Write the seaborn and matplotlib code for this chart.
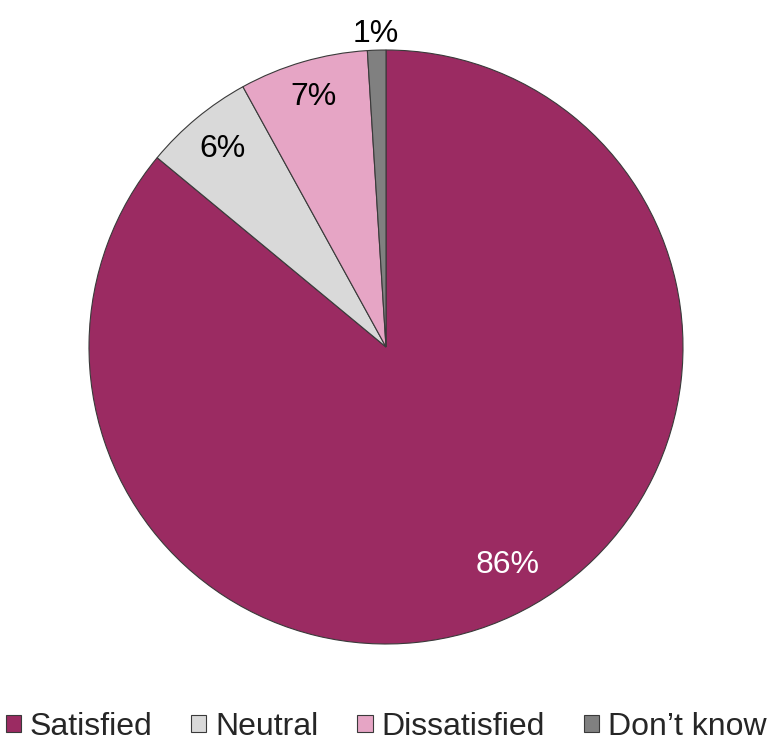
import matplotlib
matplotlib.use("Agg")
import matplotlib.pyplot as plt
from matplotlib.patches import Patch
import numpy as np
import seaborn as sns

categories = ["Satisfied", "Neutral", "Dissatisfied", "Don\u2019t know"]
shares = [86, 6, 7, 1]
labels = ["86%", "6%", "7%", "1%"]
colors = ["#9B2B62", "#D9D9D9", "#E6A5C5", "#808080"]
label_colors = ["white", "black", "black", "black"]
# radial distance (in radii) and angular nudge (degrees) for each percentage label
label_dist = [0.84, 0.865, 0.875, 1.055]
label_turn = [4.0, 0.0, 0.0, 0.0]

sns.set_theme(style="white")
plt.rcParams["font.family"] = ["Liberation Sans", "DejaVu Sans"]
palette = sns.color_palette(colors)

W, H = 772, 742
fig = plt.figure(figsize=(W / 100, H / 100), dpi=100)

cx, cy, r = 386, 347, 297
L = 1.2
size = 2 * r * L
ax = fig.add_axes([(cx - r * L) / W, (H - cy - r * L) / H, size / W, size / H])

wedges, _ = ax.pie(
    shares,
    colors=palette,
    startangle=90,
    counterclock=False,
    radius=1,
    wedgeprops=dict(edgecolor="#3a3a3a", linewidth=0.8),
)
ax.set_xlim(-L, L)
ax.set_ylim(-L, L)
ax.set_aspect("equal")
ax.axis("off")

for w, lab, c, d, t in zip(wedges, labels, label_colors, label_dist, label_turn):
    ang = np.deg2rad((w.theta1 + w.theta2) / 2 + t)
    ax.text(d * np.cos(ang), d * np.sin(ang), lab, ha="center", va="center",
            fontsize=23, color=c)

handles = [Patch(facecolor=col, edgecolor="#3a3a3a", linewidth=0.8) for col in palette]
fig.legend(handles, categories, loc="center", bbox_to_anchor=(0.5, (H - 727) / H),
           ncol=4, frameon=False, fontsize=23, handlelength=0.47, handleheight=0.47,
           handletextpad=0.28, columnspacing=1.22, borderaxespad=0, borderpad=0)

fig.savefig("out.png", dpi=100)
